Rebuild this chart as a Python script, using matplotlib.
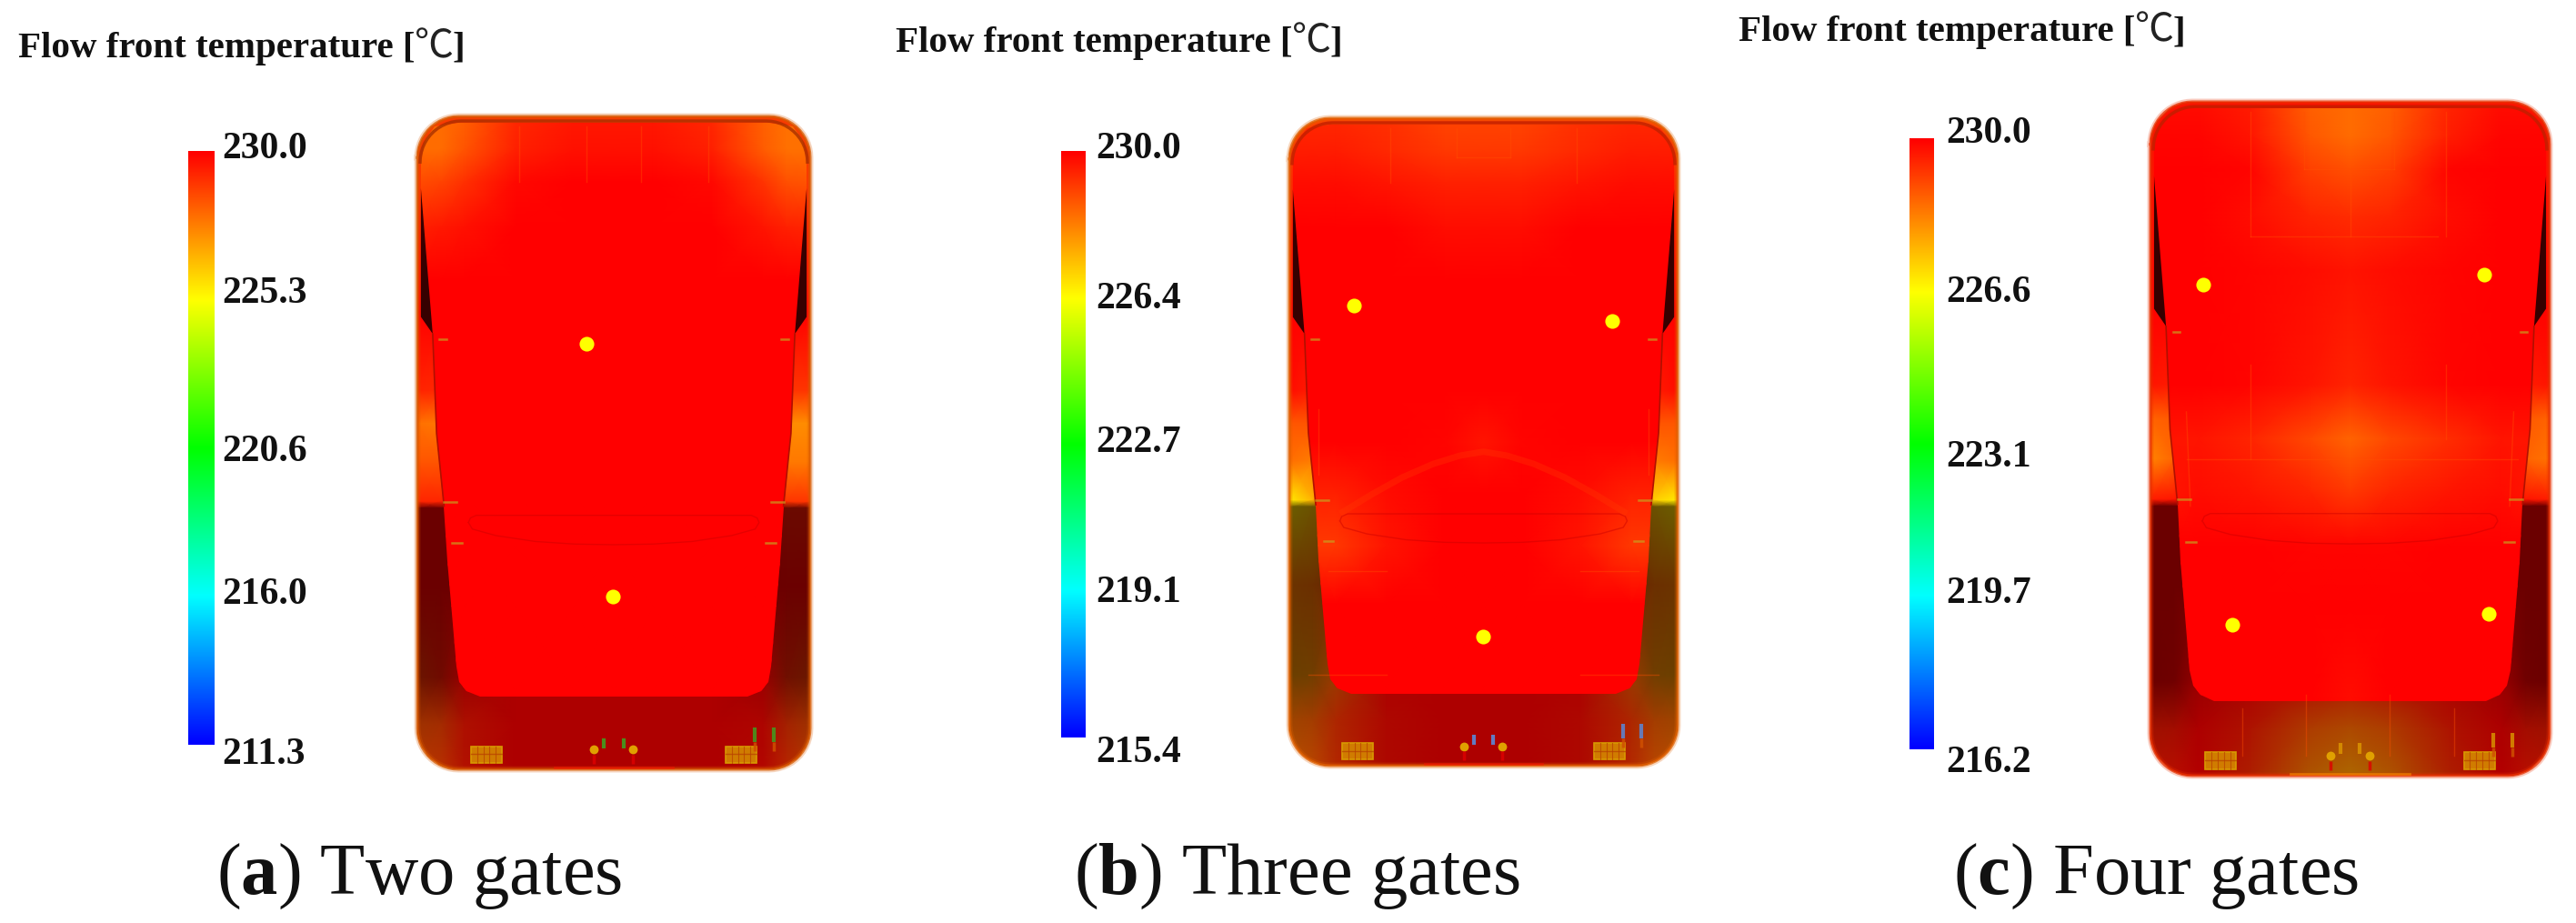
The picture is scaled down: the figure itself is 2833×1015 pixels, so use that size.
#!/usr/bin/env python3
import numpy as np
import matplotlib
matplotlib.use("Agg")
import matplotlib.pyplot as plt
from matplotlib.colors import LinearSegmentedColormap, Normalize
from matplotlib.patches import PathPatch, Polygon, Rectangle
from matplotlib.path import Path

plt.rcParams['font.family'] = ['Liberation Serif', 'Noto Sans CJK SC']
plt.rcParams['mathtext.fontset'] = 'custom'
plt.rcParams['mathtext.rm'] = 'Liberation Serif'
plt.rcParams['mathtext.bf'] = 'Liberation Serif:bold'

W, H = 2833, 1015

TITLE_LEFT = "Flow front temperature ["
TITLE_UNIT = "℃"
TITLE_RIGHT = "]"
CAPTIONS = [r"($\mathbf{a}$) Two gates", r"($\mathbf{b}$) Three gates", r"($\mathbf{c}$) Four gates"]
TICK_LABELS_A = ["230.0", "225.3", "220.6", "216.0", "211.3"]
TICK_LABELS_B = ["230.0", "226.4", "222.7", "219.1", "215.4"]
TICK_LABELS_C = ["230.0", "226.6", "223.1", "219.7", "216.2"]

# temperature range of each colour bar
RANGE_A = (211.3, 230.0)
RANGE_B = (215.4, 230.0)
RANGE_C = (216.2, 230.0)

# gates, in fractions of the part
GATES_A = [(0.43, 0.348), (0.498, 0.736)]
GATES_B = [(0.166, 0.289), (0.831, 0.313), (0.498, 0.801)]
GATES_C = [(0.132, 0.271), (0.836, 0.256), (0.205, 0.776), (0.847, 0.76)]

# nodes of the temperature grids
GRID_U = [0, .06, .12, .25, .4, .5, .6, .75, .88, .94, 1]
FACE_V = [0, .05, .1, .17, .25, .42, .5, .58, .66, .75, .88, 1]
WALL_V = [0, .1, .3, .42, .47, .53, .59, .6, .72, .86, .93, 1]

FACE_A = [
    [228.0, 228.0, 228.2, 229.2, 229.5, 229.5, 229.5, 229.2, 228.2, 227.9, 227.9],
    [228.0, 228.0, 228.4, 229.4, 229.7, 229.7, 229.7, 229.4, 228.3, 227.9, 227.9],
    [228.6, 228.7, 229.1, 229.8, 230.0, 230.0, 230.0, 229.8, 229.0, 228.5, 228.4],
    [229.4, 229.5, 229.7, 230.0, 230.0, 230.0, 230.0, 230.0, 229.6, 229.4, 229.3],
    [230.0] * 11, [230.0] * 11, [230.0] * 11, [230.0] * 11,
    [230.0] * 11, [230.0] * 11, [230.0] * 11, [230.0] * 11,
]
FACE_B = [
    [229.4, 229.4, 229.4, 229.3, 229.0, 229.0, 229.0, 229.3, 229.4, 229.4, 229.4],
    [229.6, 229.6, 229.6, 229.4, 229.2, 229.2, 229.2, 229.4, 229.6, 229.6, 229.6],
    [229.8, 229.8, 229.8, 229.7, 229.5, 229.5, 229.5, 229.7, 229.8, 229.8, 229.8],
    [230.0, 230.0, 230.0, 230.0, 229.8, 229.8, 229.8, 230.0, 230.0, 230.0, 230.0],
    [230.0] * 11,
    [230.0] * 11,
    [230.0, 230.0, 230.0, 230.0, 229.9, 229.7, 229.9, 230.0, 230.0, 230.0, 230.0],
    [229.5, 229.5, 229.5, 229.8, 230.0, 230.0, 230.0, 229.8, 229.5, 229.5, 229.5],
    [229.2, 229.2, 229.2, 229.7, 230.0, 230.0, 230.0, 229.7, 229.2, 229.2, 229.2],
    [230.0] * 11, [230.0] * 11, [230.0] * 11,
]
FACE_C = [
    [229.8, 229.8, 229.8, 229.6, 228.7, 228.5, 228.7, 229.5, 229.8, 229.8, 229.8],
    [229.9, 229.9, 229.9, 229.7, 228.8, 228.5, 228.8, 229.6, 229.9, 229.9, 229.9],
    [230.0, 230.0, 230.0, 229.9, 229.1, 228.9, 229.1, 229.9, 230.0, 230.0, 230.0],
    [230.0, 230.0, 230.0, 229.8, 229.5, 229.4, 229.5, 229.8, 230.0, 230.0, 230.0],
    [230.0, 230.0, 230.0, 229.9, 229.8, 229.7, 229.8, 229.9, 230.0, 230.0, 230.0],
    [230.0, 230.0, 230.0, 229.9, 229.7, 229.5, 229.7, 229.9, 230.0, 230.0, 230.0],
    [229.7, 229.7, 229.7, 229.5, 229.0, 228.6, 229.0, 229.4, 229.7, 229.7, 229.7],
    [229.7, 229.7, 229.8, 229.7, 229.5, 229.2, 229.5, 229.7, 229.8, 229.7, 229.7],
    [230.0, 230.0, 230.0, 230.0, 229.9, 229.9, 229.9, 230.0, 230.0, 230.0, 230.0],
    [230.0] * 11,
    [230.0, 230.0, 230.0, 230.0, 230.0, 229.8, 230.0, 230.0, 230.0, 230.0, 230.0],
    [230.0] * 11,
]

WALL_A = [
    [229.0] * 11,
    [229.0] * 11,
    [230.0] * 11,
    [229.3, 229.2, 230.0, 230.0, 230.0, 230.0, 230.0, 230.0, 229.8, 229.0, 229.0],
    [227.9, 227.8, 230.0, 230.0, 230.0, 230.0, 230.0, 230.0, 229.0, 227.4, 227.4],
    [228.4, 228.4, 230.0, 230.0, 230.0, 230.0, 230.0, 230.0, 229.0, 227.8, 227.8],
    [229.3, 229.3, 230.0, 230.0, 230.0, 230.0, 230.0, 230.0, 230.0, 229.0, 229.0],
    [230.0, 230.0, 230.0, 230.0, 230.0, 230.0, 230.0, 230.0, 230.0, 229.5, 229.5],
    [230.0, 230.0, 230.0, 230.0, 230.0, 230.0, 230.0, 230.0, 230.0, 230.0, 230.0],
    [229.0, 229.5, 230.0, 230.0, 230.0, 230.0, 230.0, 230.0, 230.0, 229.3, 228.9],
    [228.5, 228.7, 229.5, 230.0, 230.0, 230.0, 230.0, 230.0, 229.8, 229.0, 228.5],
    [228.5, 228.7, 229.5, 230.0, 230.0, 230.0, 230.0, 230.0, 229.8, 229.0, 228.4],
]
WALL_B = [
    [229.0] * 11,
    [229.5] * 11,
    [230.0] * 11,
    [229.8, 229.6, 230.0, 230.0, 230.0, 230.0, 230.0, 230.0, 230.0, 229.6, 229.8],
    [228.8, 228.8, 230.0, 230.0, 230.0, 230.0, 230.0, 230.0, 230.0, 228.8, 228.8],
    [228.4, 228.2, 230.0, 230.0, 230.0, 230.0, 230.0, 230.0, 230.0, 228.2, 228.4],
    [226.6, 227.4, 230.0, 230.0, 230.0, 230.0, 230.0, 230.0, 230.0, 227.0, 226.6],
    [226.8, 227.2, 227.5, 230.0, 230.0, 230.0, 230.0, 230.0, 227.5, 227.2, 226.8],
    [228.2, 228.4, 228.8, 230.0, 230.0, 230.0, 230.0, 230.0, 228.8, 228.4, 228.2],
    [227.8, 228.0, 228.6, 230.0, 230.0, 230.0, 230.0, 230.0, 228.6, 228.0, 227.8],
    [228.4, 228.6, 229.2, 229.8, 230.0, 230.0, 230.0, 229.8, 229.2, 228.6, 228.4],
    [228.4, 228.6, 229.2, 229.8, 230.0, 230.0, 230.0, 229.8, 229.2, 228.6, 228.4],
]
WALL_C = [
    [229.8] * 11,
    [229.8] * 11,
    [230.0] * 11,
    [229.7, 229.6, 230.0, 230.0, 230.0, 230.0, 230.0, 230.0, 230.0, 229.6, 229.7],
    [228.6, 228.8, 230.0, 230.0, 230.0, 230.0, 230.0, 230.0, 230.0, 228.8, 228.6],
    [228.2, 228.6, 230.0, 230.0, 230.0, 230.0, 230.0, 230.0, 230.0, 228.6, 228.4],
    [229.6, 229.7, 230.0, 230.0, 230.0, 230.0, 230.0, 230.0, 230.0, 229.7, 229.6],
    [230.0] * 11,
    [230.0] * 11,
    [230.0, 230.0, 230.0, 230.0, 229.7, 229.5, 229.7, 230.0, 230.0, 230.0, 230.0],
    [229.6, 229.7, 230.0, 229.6, 228.8, 228.5, 228.8, 229.6, 230.0, 229.7, 229.6],
    [229.6, 229.7, 230.0, 229.4, 228.3, 227.9, 228.3, 229.4, 230.0, 229.7, 229.6],
]
# how dark the walls are drawn, same for all parts
WALL_SHADE = [
    [1.0] * 11, [1.0] * 11, [1.0] * 11, [1.0] * 11, [1.0] * 11, [1.0] * 11, [1.0] * 11,
    [.42, .42, .42, .68, .68, .68, .68, .68, .42, .42, .42],
    [.42, .42, .42, .68, .68, .68, .68, .68, .42, .42, .42],
    [.42, .44, .60, .68, .68, .68, .68, .68, .60, .44, .42],
    [.62, .64, .68, .68, .68, .68, .68, .68, .68, .64, .62],
    [.72, .72, .70, .68, .68, .68, .68, .68, .70, .72, .72],
]

# left half of the mirror-symmetric face outline
FACE_EDGE_U = [.105, .045, .02, .009, .009, .039, .049, .068, .076, .099, .106, .125, .16]
FACE_EDGE_V = [.010, .015, .035, .065, .11, .333, .486, .597, .681, .843, .866, .880, .889]
# black slit between the face and the upper side strip
WEDGE_U = [.009, .039, .009]
WEDGE_V = [.11, .333, .307]
# the thin lens-shaped rib above the lower gate
LENS_U = [.13, .135, .15, .3, .5, .7, .85, .865, .87, .86, .8, .7, .6, .5, .4, .3, .2, .14, .13]
LENS_V = [.622, .615, .611, .611, .611, .611, .611, .615, .622, .632, .642, .651, .655, .656,
          .655, .651, .642, .632, .622]

SEAMS_A = [(.26, .015, .26, .1), (.43, .015, .43, .1), (.57, .015, .57, .1), (.74, .015, .74, .1)]
SEAMS_B = [(.26, .015, .26, .1), (.43, .015, .43, .06), (.43, .06, .57, .06), (.57, .015, .57, .06),
           (.74, .015, .74, .1), (.075, .45, .075, .55), (.925, .45, .925, .55),
           (.1, .7, .25, .7), (.75, .7, .9, .7), (.05, .86, .25, .86), (.75, .86, .95, .86)]
SEAMS_C = [(.25, .015, .25, .2), (.385, .015, .385, .1), (.385, .1, .61, .1), (.61, .015, .61, .1),
           (.5, .1, .5, .2), (.25, .2, .72, .2), (.74, .015, .74, .2),
           (.25, .39, .25, .53), (.74, .39, .74, .5), (.09, .53, .92, .53),
           (.09, .46, .1, .6), (.91, .46, .9, .6), (.23, .9, .23, .97), (.39, .88, .39, .97),
           (.6, .88, .6, .97), (.76, .9, .76, .97)]
# arc of the weld line in the three-gate part
ARC_U = [.138, .215, .29, .37, .44, .5, .56, .63, .71, .785, .862]
ARC_V = [.608, .58, .555, .534, .521, .515, .521, .534, .555, .58, .608]

PIN_COLORS = ['#3f9f20', '#5a88d8', '#d89000']
BORDER_COLORS = ['#d85a00', '#e06000', '#e83000']
TOP_COLORS = ['#a83000', '#c02000', '#c02000']
BOTTOM_COLORS = ['#ff1000', '#ff1000', '#ffa000']

CBAR_BOXES = [(207, 166, 236, 819), (1167, 166, 1194, 811), (2100, 152, 2127, 824)]
PART_BOXES = [(459, 128, 891, 846), (1418, 130, 1845, 842), (2365, 112, 2804, 853)]
TITLE_POS = [(20, 63), (985, 57), (1912, 45)]
TICK_X = [244, 1205, 2140]
TICK_Y_A = [174, 333, 507, 664, 840]
TICK_Y_B = [174, 339, 497, 662, 838]
TICK_Y_C = [157, 332, 513, 663, 849]
CAPTION_X = [461, 1426, 2371]

cmap = LinearSegmentedColormap.from_list(
    "flow", ['#0000ff', '#00ffff', '#00ff00', '#ffff00', '#ff0000'])


def px_axes(fig, box):
    left, top, right, bottom = box
    return fig.add_axes([left / W, 1 - bottom / H, (right - left) / W, (bottom - top) / H])


def rounded_rect(rx=0.105, ry=0.063, n=14):
    t = np.linspace(0, np.pi / 2, n)
    us = np.concatenate([rx - rx * np.cos(t), 1 - rx + rx * np.sin(t),
                         1 - rx + rx * np.cos(t), rx - rx * np.sin(t)])
    vs = np.concatenate([ry - ry * np.sin(t), ry - ry * np.cos(t),
                         1 - ry + ry * np.sin(t), 1 - ry + ry * np.cos(t)])
    return np.column_stack([us, vs])


def draw_part(ax, tmin, face, wall, gates, seams, pin_color, border, top_edge, bottom_edge, arc=False):
    ax.set_xlim(0, 1)
    ax.set_ylim(1, 0)
    ax.axis('off')
    norm = Normalize(tmin, 230.0)

    outline = rounded_rect()
    clip = PathPatch(Path(np.vstack([outline, outline[:1]])), transform=ax.transData,
                     facecolor='none', edgecolor='none')
    ax.add_patch(clip)

    # walls first: colour of the temperature times the shade
    wall_rgb = cmap(norm(np.array(wall)))[..., :3] * np.array(WALL_SHADE)[..., None]
    mesh = ax.pcolormesh(GRID_U, WALL_V, wall_rgb, shading='gouraud')
    mesh.set_clip_path(clip)

    left = list(zip(FACE_EDGE_U, FACE_EDGE_V))
    right = [(1 - u, v) for u, v in reversed(left)]
    face_patch = Polygon(left + right, closed=True, transform=ax.transData,
                         facecolor='none', edgecolor='none')
    ax.add_patch(face_patch)
    mesh = ax.pcolormesh(GRID_U, FACE_V, np.array(face), shading='gouraud', cmap=cmap, norm=norm)
    mesh.set_clip_path(face_patch)

    # dark slits and the inner edge of the strips
    ax.fill(WEDGE_U, WEDGE_V, color='#360000', lw=0)
    ax.fill([1 - u for u in WEDGE_U], WEDGE_V, color='#360000', lw=0)
    ax.plot(FACE_EDGE_U[5:8], FACE_EDGE_V[5:8], color='#b01000', lw=1.2)
    ax.plot([1 - u for u in FACE_EDGE_U[5:8]], FACE_EDGE_V[5:8], color='#b01000', lw=1.2)

    for u0, v0, u1, v1 in seams:
        ax.plot([u0, u1], [v0, v1], color='#ff5000', lw=1, alpha=0.4)
    ax.plot(LENS_U, LENS_V, color='#c80000', lw=1, alpha=0.45)
    if arc:
        ax.plot(ARC_U, ARC_V, color='#ff3c00', lw=5, alpha=0.3)

    # small clips next to the strips
    for u0, u1, v in [(.056, .074, .341), (.088, .113, .653), (.068, .10, .59)]:
        ax.plot([u0, u1], [v, v], color='#c8a020', lw=1.8, alpha=0.7)
        ax.plot([1 - u0, 1 - u1], [v, v], color='#c8a020', lw=1.8, alpha=0.7)

    # connectors at the bottom edge
    for u0 in [.137, .785]:
        ax.add_patch(Rectangle((u0, .965), .078, .025, facecolor='#d07c00', edgecolor='#d89a00', lw=1.2))
        ax.plot([u0, u0 + .078], [.977, .977], color='#b84000', lw=1, alpha=.7)
        for k in range(1, 5):
            ax.plot([u0 + k * .0156] * 2, [.965, .99], color='#b84000', lw=.8, alpha=.7)
    ax.scatter([.45, .548], [.97, .97], s=50, color='#e0a000', linewidths=0)
    ax.vlines([.45, .548], .978, .992, color='#e00000', lw=2.5, alpha=.8)
    ax.vlines([.475, .525], .952, .968, color=pin_color, lw=3, alpha=.9)
    ax.vlines([.859, .907], .936, .958, color=pin_color, lw=3, alpha=.85)
    ax.vlines([.859, .907], .958, .972, color='#d05000', lw=2.5, alpha=.85)

    # outer edge and the darker band along the top
    closed = np.vstack([outline, outline[:1]])
    ax.plot(closed[:, 0], closed[:, 1], color=border, lw=5, alpha=0.25, clip_on=False)
    ax.plot(closed[:, 0], closed[:, 1], color=border, lw=2.2, alpha=0.75, clip_on=False)
    ax.plot([.35, .65], [.997, .997], color=bottom_edge, lw=2, alpha=0.5, clip_on=False)
    top = outline[:28].copy()
    top[:, 1] += 0.007
    top[:14, 0] += 0.007
    top[14:, 0] -= 0.007
    ax.plot(top[:, 0], top[:, 1], color=top_edge, lw=2.5, alpha=0.8)

    ax.scatter(*zip(*gates), s=135, color='#ffff00', linewidths=0, zorder=5)


def draw_cbar(ax, tmin):
    ax.imshow(np.linspace(230.0, tmin, 256)[:, None], aspect='auto', cmap=cmap, vmin=tmin, vmax=230.0)
    ax.axis('off')


def draw_title(fig, x, y):
    # the unit sign comes from another font and is thin in the reference, so place the parts in a row
    renderer = fig.canvas.get_renderer()
    fy = 1 - y / H
    t = fig.text(x / W, fy, TITLE_LEFT, fontsize=29.5, fontweight='bold', va='baseline', color='#111111')
    x1 = t.get_window_extent(renderer).x1
    t = fig.text((x1 - 1) / W, fy, TITLE_UNIT, fontsize=31, family=['Noto Sans CJK SC'],
                 va='baseline', color='#222222')
    x2 = t.get_window_extent(renderer).x1
    fig.text((x2 - 1) / W, fy, TITLE_RIGHT, fontsize=29.5, fontweight='bold', va='baseline', color='#111111')


def main():
    fig = plt.figure(figsize=(W / 100, H / 100), dpi=100)

    ranges = [RANGE_A, RANGE_B, RANGE_C]
    faces = [FACE_A, FACE_B, FACE_C]
    walls = [WALL_A, WALL_B, WALL_C]
    gates = [GATES_A, GATES_B, GATES_C]
    seams = [SEAMS_A, SEAMS_B, SEAMS_C]
    ticks = [TICK_LABELS_A, TICK_LABELS_B, TICK_LABELS_C]
    tick_ys = [TICK_Y_A, TICK_Y_B, TICK_Y_C]

    for i in range(3):
        draw_cbar(px_axes(fig, CBAR_BOXES[i]), ranges[i][0])
        draw_part(px_axes(fig, PART_BOXES[i]), ranges[i][0], faces[i], walls[i], gates[i], seams[i],
                  PIN_COLORS[i], BORDER_COLORS[i], TOP_COLORS[i], BOTTOM_COLORS[i], arc=(i == 1))
        draw_title(fig, *TITLE_POS[i])
        for label, y in zip(ticks[i], tick_ys[i]):
            fig.text(TICK_X[i] / W, 1 - y / H, label, fontsize=30, fontweight='bold',
                     va='baseline', ha='left', color='#111111')
        fig.text(CAPTION_X[i] / W, 1 - 983 / H, CAPTIONS[i], fontsize=58,
                 va='baseline', ha='center', color='#111111')

    fig.savefig('out.png', dpi=100)


if __name__ == "__main__":
    main()
